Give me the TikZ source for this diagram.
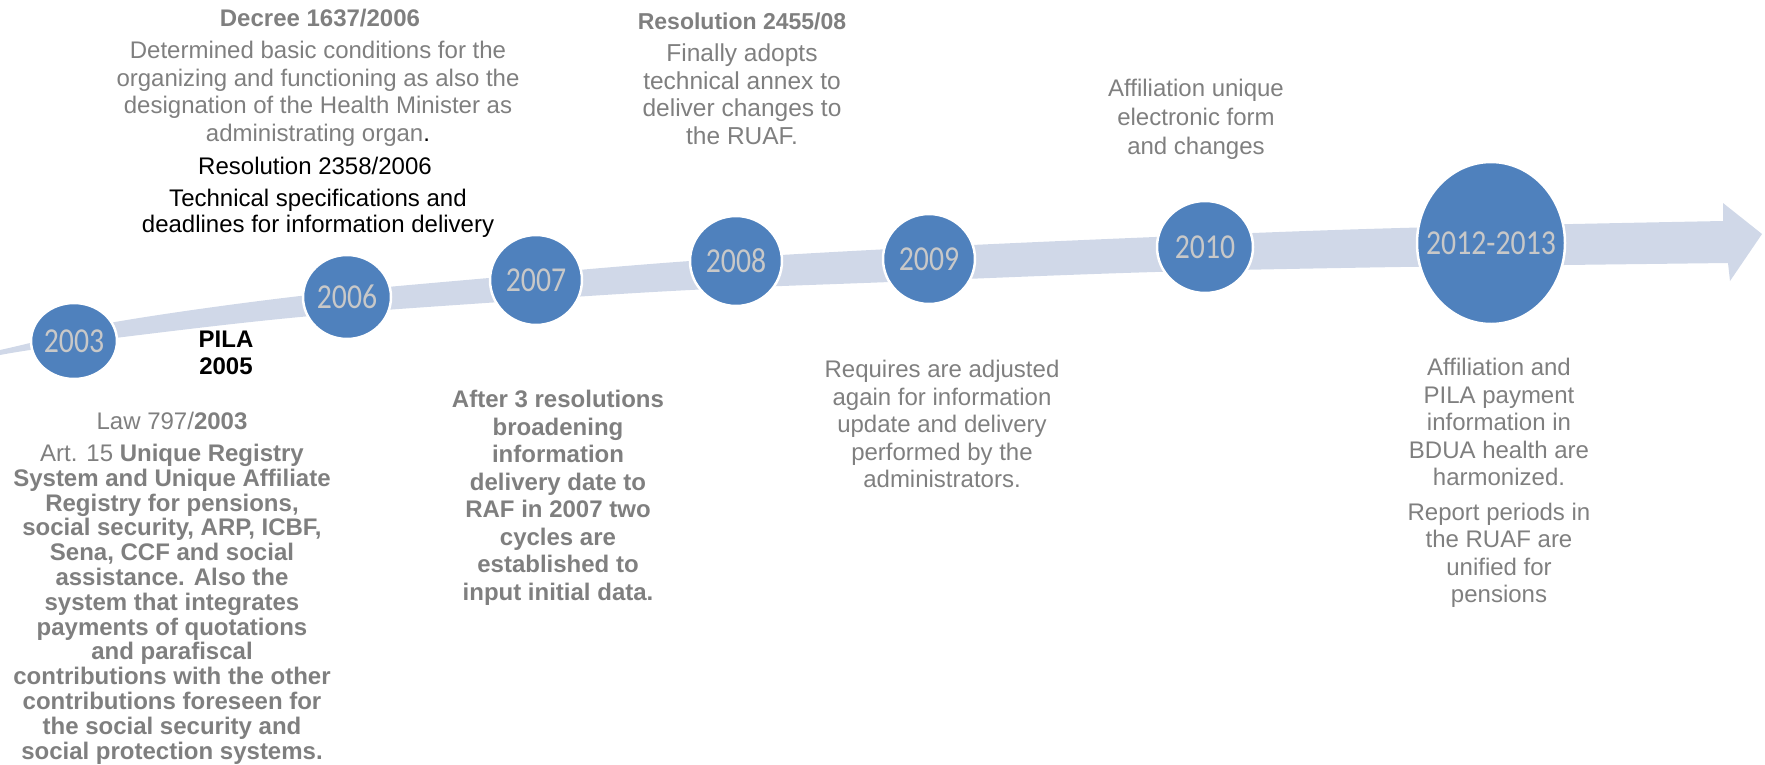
\documentclass[tikz,border=0pt]{standalone}
\usepackage{fontspec}
\setmainfont{Liberation Sans}
\newfontfamily\yearfont[FakeStretch=0.85]{Carlito}
\usetikzlibrary{shapes.geometric}
\definecolor{yearblue}{RGB}{79,129,189}
\definecolor{bandblue}{RGB}{208,216,232}
\definecolor{textgray}{RGB}{127,127,127}
\definecolor{yeargray}{RGB}{200,200,200}

\begin{document}
\begin{tikzpicture}[x=1pt, y=-1pt,
    year/.style={ellipse, fill=yearblue, draw=white, line width=2.5pt, inner sep=0pt, text=yeargray, font=\yearfont\fontsize{35}{35}\selectfont},
    note/.style={align=center, inner sep=0pt, text=textgray, font=\fontsize{24}{27.5}\selectfont},
    tightnote/.style={note, font=\fontsize{24}{26}\selectfont},
    boldnote/.style={note, font=\bfseries\fontsize{24}{27.5}\selectfont}]
    \useasboundingbox (0,0) rectangle (1765,764);

    % timeline band with arrow head
    \fill[bandblue] plot[smooth, tension=0.6] coordinates {(0,350) (30,343) (115,322) (300,296) (500,277) (690,261) (890,249) (1155,237) (1400,228) (1723,221)}
        -- (1723,203) -- (1762,234) -- (1730,281) -- (1728,263)
        -- plot[smooth, tension=0.6] coordinates {(1400,267) (1155,272) (890,282) (690,290) (500,302) (300,317) (115,338) (30,350) (0,355)} -- cycle;

    \node[year, minimum width=86pt, minimum height=76pt] (y2003) at (74,341) {2003};
    \node[year, minimum width=88pt, minimum height=84pt] (y2006) at (347,297) {2006};
    \node[year, minimum width=92pt, minimum height=90pt] (y2007) at (536,280) {2007};
    \node[year, minimum width=92pt, minimum height=90pt] (y2008) at (736,261) {2008};
    \node[year, minimum width=92pt, minimum height=90pt] (y2009) at (929,259) {2009};
    \node[year, minimum width=96pt, minimum height=92pt] (y2010) at (1205,247) {2010};
    \node[year, inner xsep=-16pt, minimum width=148pt, minimum height=162pt] (y2012) at (1491,243) {2012-2013};

    % texts above the band
    \node[tightnote, font=\bfseries\fontsize{24}{26}\selectfont] (decree_title) at (320,18) {Decree 1637/2006};
    \node[tightnote, font=\fontsize{24}{27.5}\selectfont] (decree_text) at (318,94) {Determined basic conditions for the\\organizing and functioning as also the\\designation of the Health Minister as\\administrating organ\textcolor{black}{.}};
    \node[tightnote, text=black] (res2358_title) at (315,166) {Resolution 2358/2006};
    \node[tightnote, text=black] (res2358_text) at (318,213) {Technical specifications and\\deadlines for information delivery};
    \node[note, font=\bfseries\fontsize{23}{26.5}\selectfont] (res2455_title) at (742,21) {Resolution 2455/08};
    \node[note, font=\fontsize{24.5}{27.5}\selectfont] (res2455_text) at (742,94) {Finally adopts\\technical annex to\\deliver changes to\\the RUAF.};
    \node[note, font=\fontsize{24}{29}\selectfont] (affil_text) at (1196,119) {Affiliation unique\\electronic form\\and changes};

    % texts below the band
    \node[boldnote, text=black] (pila) at (226,353) {PILA\\2005};
    \node[tightnote] (law_title) at (172,421) {Law 797/\textbf{2003}};
    \node[tightnote, font=\bfseries\fontsize{24}{24.8}\selectfont] (law_text) at (172,604) {{\mdseries Art. 15} Unique Registry\\System and Unique Affiliate\\Registry for pensions,\\social security, ARP, ICBF,\\Sena, CCF and social\\assistance. Also the\\system that integrates\\payments of quotations\\and parafiscal\\contributions with the other\\contributions foreseen for\\the social security and\\social protection systems.};
    \node[boldnote] (after_text) at (558,498) {After 3 resolutions\\broadening\\information\\delivery date to\\RAF in 2007 two\\cycles are\\established to\\input initial data.};
    \node[note] (requires_text) at (942,424) {Requires are adjusted\\again for information\\update and delivery\\performed by the\\administrators.};
    \node[note] (harmon_text) at (1499,483) {Affiliation and\\PILA payment\\information in\\BDUA health are\\harmonized.\\[7pt]Report periods in\\the RUAF are\\unified for\\pensions};

\end{tikzpicture}
\end{document}
